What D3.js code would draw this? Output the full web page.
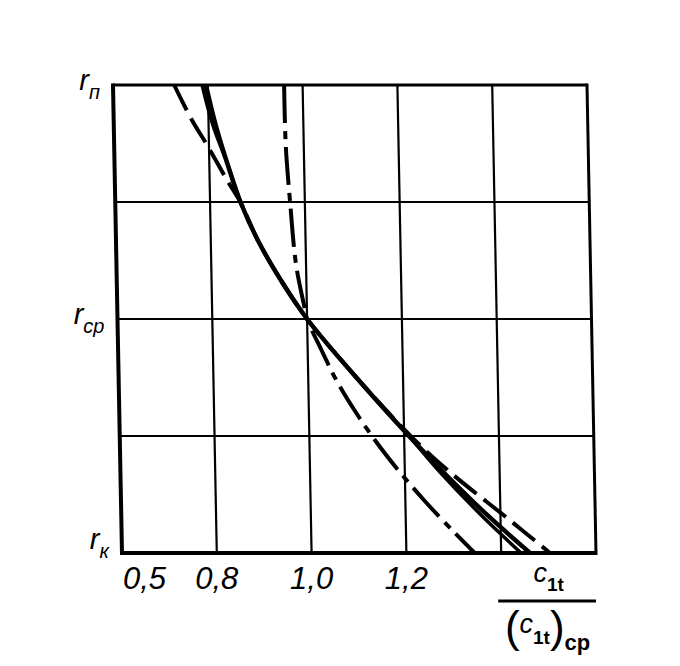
<!DOCTYPE html>
<html><head><meta charset="utf-8">
<script src="https://cdn.jsdelivr.net/npm/d3@7"></script>
<style>body{margin:0;background:#fff}</style>
</head><body>
<script>
// ---- data ----
const xTicks = [0.6, 0.8, 1.0, 1.2, 1.4, 1.6];
const xTickLabels = ["0,5", "0,8", "1,0", "1,2", "", ""];
const yTicks = [0, 1, 2, 3, 4];
const yLabelMain = ["r", "", "r", "", "r"];
const yLabelSub = ["к", "", "ср", "", "п"];

// curves: [c1t/(c1t)cp , radius level (0 = r_к, 2 = r_ср, 4 = r_п)]
const curveDashed = [[0.729,4.0],[0.765,3.701],[0.796,3.487],[0.839,3.171],[0.865,2.991],[0.899,2.675],[0.946,2.333],[1.0,2.0],[1.088,1.564],[1.216,0.991],[1.295,0.692],[1.414,0.299],[1.503,0.0]];
const curveSolidA = [[0.788,4.0],[0.809,3.658],[0.839,3.316],[0.865,2.991],[0.899,2.675],[0.946,2.333],[1.0,2.0],[1.088,1.564],[1.212,0.991],[1.274,0.692],[1.359,0.325],[1.442,0.0]];
const curveSolidB = [[0.796,4.0],[0.815,3.658],[0.839,3.316],[0.865,2.991],[0.899,2.675],[0.946,2.333],[1.0,2.0],[1.088,1.564],[1.212,0.991],[1.281,0.692],[1.372,0.325],[1.461,0.0]];
const curveDashDot = [[0.961,4.0],[0.962,3.487],[0.969,2.991],[0.979,2.462],[0.994,2.12],[1.0,2.0],[1.029,1.735],[1.059,1.479],[1.096,1.222],[1.138,0.966],[1.186,0.709],[1.239,0.453],[1.297,0.197],[1.344,0.0]];

// ---- layout ----
const W = 680, H = 666;
const plotTop = 85, plotH = 468;
const skewDeg = 1.1;
const shift = Math.tan(skewDeg * Math.PI / 180) * plotH;

const svg = d3.select("body").append("svg").attr("width", W).attr("height", H)
  .style("background", "#fff");

const x = d3.scaleLinear().domain([0.6, 1.6]).range([113, 587]);
const y = d3.scaleLinear().domain([0, 4]).range([plotH, 0]);

const g = svg.append("g").attr("transform", `translate(0,${plotTop}) skewX(${skewDeg})`);

// grid
g.selectAll("line.v").data(xTicks.slice(1, -1)).join("line")
  .attr("x1", d => x(d)).attr("x2", d => x(d)).attr("y1", 0).attr("y2", plotH)
  .attr("stroke", "#000").attr("stroke-width", 2.2);
g.selectAll("line.h").data(yTicks.slice(1, -1)).join("line")
  .attr("x1", x(0.6)).attr("x2", x(1.6)).attr("y1", d => y(d)).attr("y2", d => y(d))
  .attr("stroke", "#000").attr("stroke-width", 2);
// frame
g.append("line").attr("x1", x(0.6)).attr("x2", x(1.6)).attr("y1", y(4)).attr("y2", y(4)).attr("stroke", "#000").attr("stroke-width", 3);
g.append("line").attr("x1", x(0.6)).attr("x2", x(1.6)).attr("y1", y(0)).attr("y2", y(0)).attr("stroke", "#000").attr("stroke-width", 4);
g.append("line").attr("x1", x(0.6)).attr("x2", x(0.6)).attr("y1", y(4) - 1.5).attr("y2", y(0) + 2).attr("stroke", "#000").attr("stroke-width", 4);
g.append("line").attr("x1", x(1.6)).attr("x2", x(1.6)).attr("y1", y(4) - 1.5).attr("y2", y(0) + 2).attr("stroke", "#000").attr("stroke-width", 3);

// curves
const line = d3.line().x(d => x(d[0])).y(d => y(d[1])).curve(d3.curveCatmullRom.alpha(0.5));
const curves = [
  { data: curveDashDot, dash: "38,8,8,8", w: 4 },
  { data: curveDashed, dash: "28,9", w: 4 },
  { data: curveSolidA, dash: null, w: 3.5 },
  { data: curveSolidB, dash: null, w: 4.5 }
];
g.selectAll("path.curve").data(curves).join("path")
  .attr("class", "curve")
  .attr("d", d => line(d.data))
  .attr("fill", "none").attr("stroke", "#000")
  .attr("stroke-width", d => d.w)
  .attr("stroke-dasharray", d => d.dash);

// x tick labels (bottom of skewed frame)
svg.selectAll("text.xt").data(xTicks).join("text")
  .attr("class", "xt")
  .attr("x", (d, i) => x(d) + shift + (i === 0 ? 1 : 0))
  .attr("y", plotTop + plotH + 36)
  .attr("text-anchor", (d, i) => i === 0 ? "start" : "middle")
  .attr("font-family", "Liberation Sans, sans-serif")
  .attr("font-style", "italic")
  .attr("font-size", 31)
  .text((d, i) => xTickLabels[i]);

// y labels
const yl = svg.selectAll("text.yl").data(yTicks).join("text")
  .attr("class", "yl")
  .attr("x", d => x(0.6) + shift * (1 - d / 4) - 13)
  .attr("y", d => Math.min(plotTop + y(d) + 5, plotTop + plotH - 4))
  .attr("text-anchor", "end")
  .attr("font-family", "Liberation Sans, sans-serif")
  .attr("font-style", "italic");
yl.append("tspan").attr("font-size", 29).text((d, i) => yLabelMain[i]);
yl.append("tspan").attr("font-size", 20).attr("dy", 9).text((d, i) => yLabelSub[i]);

// axis title: c1t / (c1t)cp
const cx = (x(1.4) + x(1.6)) / 2 + shift;
const num = svg.append("text").attr("x", cx).attr("y", 582).attr("text-anchor", "middle")
  .attr("font-family", "Liberation Sans, sans-serif");
num.append("tspan").attr("font-size", 27).attr("font-style", "italic").text("c");
num.append("tspan").attr("font-size", 19).attr("font-weight", "bold").attr("dy", 9).text("1t");
svg.append("line").attr("x1", x(1.4) + shift - 3).attr("x2", x(1.6) + shift)
  .attr("y1", 601).attr("y2", 601).attr("stroke", "#000").attr("stroke-width", 3);
const den = svg.append("text").attr("x", cx - 1).attr("y", 642).attr("text-anchor", "middle")
  .attr("font-family", "Liberation Sans, sans-serif");
den.append("tspan").attr("font-size", 44).text("(");
den.append("tspan").attr("font-size", 27).attr("font-style", "italic").attr("dy", -9).text("c");
den.append("tspan").attr("font-size", 19).attr("font-weight", "bold").attr("dy", 11).text("1t");
den.append("tspan").attr("font-size", 44).attr("dy", -2).text(")");
den.append("tspan").attr("font-size", 22).attr("font-weight", "bold").attr("dy", 8).text("cp");
</script>
</body></html>
